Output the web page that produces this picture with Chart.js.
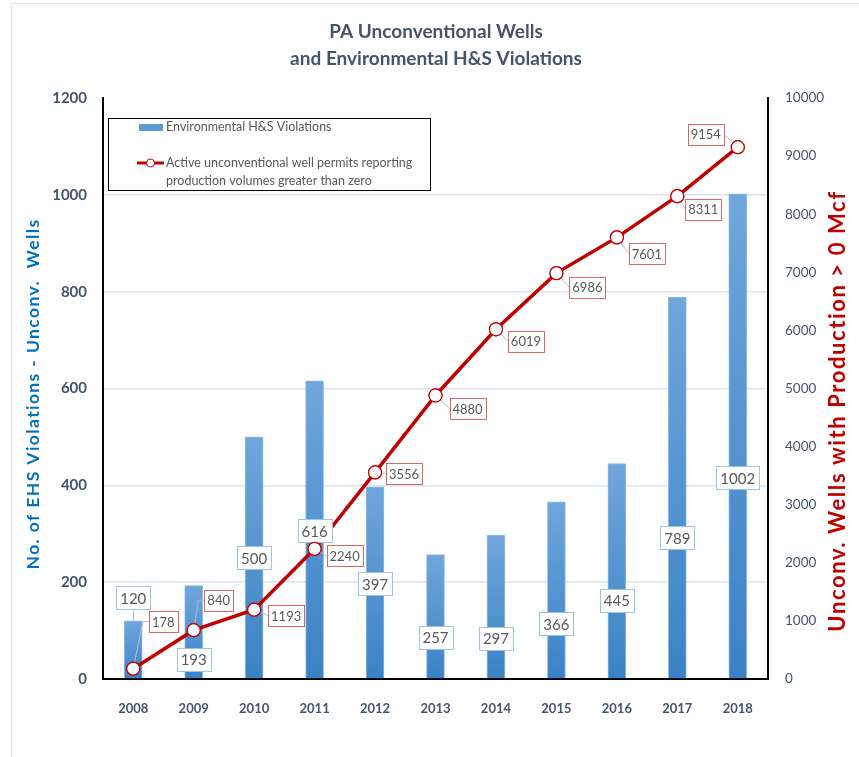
<!DOCTYPE html>
<html>
<head>
<meta charset="utf-8">
<script src="https://cdn.jsdelivr.net/npm/chart.js@4.4.0/dist/chart.umd.min.js"></script>
<style>
  html, body { margin: 0; padding: 0; background: #fff; }
  #wrap { width: 859px; height: 757px; position: relative; }
</style>
</head>
<body>
<div id="wrap"><canvas id="chart" width="859" height="757"></canvas></div>
<script>
const years = ['2008', '2009', '2010', '2011', '2012', '2013', '2014', '2015', '2016', '2017', '2018'];
const violations = [120, 193, 500, 616, 397, 257, 297, 366, 445, 789, 1002];
const activeWells = [178, 840, 1193, 2240, 3556, 4880, 6019, 6986, 7601, 8311, 9154];
const leftTicks = [0, 200, 400, 600, 800, 1000, 1200];
const rightTicks = [0, 1000, 2000, 3000, 4000, 5000, 6000, 7000, 8000, 9000, 10000];

const titleLines = ['PA Unconventional Wells', 'and Environmental H&S Violations'];
const barName = 'Environmental H&S Violations';
const lineName = ['Active unconventional well permits reporting', 'production volumes greater than zero'];

// label placement (pixels, relative to bar top / point)
const barLabelShift = [-23, 74, 121, 150, 97, 83, 103, 122, 137, 241, 284];
const lineLabelShift = [[30, -47], [25, -30], [32, 6], [30, 7], [29, 1], [32, 13], [30, 12], [31, 14], [30, 16], [26, 13], [-32, -13]];

const FONT = 'Lato, "Open Sans", sans-serif';
const SLATE = '#44546a';
const TEXT_GREY = '#595959';

function box(ctx, cx, cy, text, font, border, pad, h) {
    ctx.font = font;
    const w = Math.round(ctx.measureText(text).width + pad);
    const x = Math.round(cx - w / 2) + 0.5, y = Math.round(cy - h / 2) + 0.5;
    ctx.fillStyle = '#fff';
    ctx.fillRect(x, y, w, h);
    ctx.strokeStyle = border;
    ctx.lineWidth = 1;
    ctx.strokeRect(x, y, w, h);
    ctx.fillStyle = TEXT_GREY;
    ctx.textAlign = 'center';
    ctx.textBaseline = 'middle';
    ctx.fillText(text, cx, cy + 1);
    return { x, y, w, h };
}

// rotated text fitted to a target length
function sideTitle(ctx, text, cx, cy, font, color, length) {
    ctx.save();
    ctx.translate(cx, cy);
    ctx.rotate(-Math.PI / 2);
    ctx.font = font;
    ctx.fillStyle = color;
    ctx.textAlign = 'center';
    ctx.textBaseline = 'middle';
    const w = ctx.measureText(text).width;
    ctx.letterSpacing = ((length - w) / (text.length - 1)).toFixed(2) + 'px';
    ctx.fillText(text, 0, 0);
    ctx.restore();
}

const decorPlugin = {
    id: 'decor',
    beforeDraw(chart) {
        const ctx = chart.ctx;
        ctx.save();
        ctx.strokeStyle = '#dfe4ea';
        ctx.lineWidth = 1;
        ctx.beginPath();
        ctx.moveTo(11.5, 757);
        ctx.lineTo(11.5, 3.5);
        ctx.lineTo(859, 3.5);
        ctx.stroke();
        ctx.restore();
    },
    afterDatasetsDraw(chart) {
        const ctx = chart.ctx;
        const barMeta = chart.getDatasetMeta(0);
        const lineMeta = chart.getDatasetMeta(1);
        ctx.save();

        // bar value labels
        barMeta.data.forEach((bar, i) => {
            const cy = bar.y + barLabelShift[i];
            const b = box(ctx, bar.x, cy, String(violations[i]), '15px ' + FONT, '#9dc3e6', 8, 23);
            if (b.y + b.h < bar.y) {
                ctx.strokeStyle = '#bfbfbf';
                ctx.beginPath();
                ctx.moveTo(Math.round(bar.x) + 0.5, b.y + b.h);
                ctx.lineTo(Math.round(bar.x) + 0.5, bar.y);
                ctx.stroke();
            }
        });

        // line value labels with leaders
        lineMeta.data.forEach((pt, i) => {
            const [dx, dy] = lineLabelShift[i];
            const cx = pt.x + dx, cy = pt.y + dy;
            ctx.font = '13px ' + FONT;
            const w = ctx.measureText(String(activeWells[i])).width + 6;
            const ex = dx > 0 ? cx - w / 2 : cx + w / 2;
            ctx.strokeStyle = '#b4bcc6';
            ctx.lineWidth = 1;
            ctx.beginPath();
            ctx.moveTo(pt.x, pt.y);
            if (Math.abs(dy) > 20) {
                ctx.lineTo(ex - (dx > 0 ? 6 : -6), cy);
            }
            ctx.lineTo(ex, cy);
            ctx.stroke();
        });
        // redraw points on top of leaders
        lineMeta.data.forEach(pt => pt.draw(ctx, chart.chartArea));
        lineMeta.data.forEach((pt, i) => {
            const [dx, dy] = lineLabelShift[i];
            box(ctx, pt.x + dx, pt.y + dy, String(activeWells[i]), '13px ' + FONT, '#e06666', 6, 21);
        });
        ctx.restore();
    },
    afterDraw(chart) {
        const ctx = chart.ctx;
        ctx.save();
        // title
        ctx.fillStyle = SLATE;
        ctx.font = 'bold 19px ' + FONT;
        ctx.textAlign = 'center';
        ctx.textBaseline = 'middle';
        ctx.fillText(titleLines[0], 436, 32);
        ctx.fillText(titleLines[1], 436, 59);

        // axis titles
        sideTitle(ctx, 'No. of EHS Violations - Unconv.  Wells', 33, 394, 'bold 17.5px ' + FONT, '#0070c0', 350);
        sideTitle(ctx, 'Unconv. Wells with Production > 0 Mcf', 838, 411, 'bold 22px ' + FONT, '#c00000', 440);

        // legend
        ctx.fillStyle = '#fff';
        ctx.fillRect(108.5, 118.5, 322, 72);
        ctx.strokeStyle = '#000';
        ctx.lineWidth = 1;
        ctx.strokeRect(108.5, 118.5, 322, 72);
        ctx.fillStyle = '#5b9bd5';
        ctx.fillRect(139, 124, 24, 7);
        ctx.strokeStyle = '#c00000';
        ctx.lineWidth = 3;
        ctx.beginPath();
        ctx.moveTo(137, 163);
        ctx.lineTo(164, 163);
        ctx.stroke();
        ctx.beginPath();
        ctx.arc(150.5, 163, 4, 0, Math.PI * 2);
        ctx.fillStyle = '#fff';
        ctx.fill();
        ctx.lineWidth = 1;
        ctx.stroke();
        ctx.fillStyle = TEXT_GREY;
        ctx.font = '12.5px ' + FONT;
        ctx.textAlign = 'left';
        ctx.fillText(barName, 166, 127);
        ctx.fillText(lineName[0], 166, 163);
        ctx.fillText(lineName[1], 166, 181);
        ctx.restore();
    }
};

function barGradient(context) {
    const chart = context.chart;
    if (!chart.chartArea) return '#5b9bd5';
    const y = chart.scales.y;
    const top = y.getPixelForValue(violations[context.dataIndex]);
    const bottom = y.getPixelForValue(0);
    const g = chart.ctx.createLinearGradient(0, top, 0, bottom);
    g.addColorStop(0, '#70a6dc');
    g.addColorStop(1, '#3a82c5');
    return g;
}

new Chart(document.getElementById('chart'), {
    data: {
        labels: years,
        datasets: [{
            type: 'bar',
            label: barName,
            data: violations,
            yAxisID: 'y',
            backgroundColor: barGradient,
            borderColor: '#8fbbe6',
            borderWidth: { top: 1, left: 1, right: 1, bottom: 0 },
            barThickness: 18,
            order: 2
        }, {
            type: 'line',
            label: lineName.join(' '),
            data: activeWells,
            yAxisID: 'y1',
            borderColor: '#c00000',
            borderWidth: 3.5,
            pointRadius: 6.5,
            pointBorderWidth: 1.2,
            pointBackgroundColor: '#fff',
            pointBorderColor: '#c00000',
            tension: 0,
            order: 1
        }]
    },
    options: {
        responsive: false,
        animation: false,
        layout: { padding: { top: 98, left: 0, right: 0, bottom: 0 } },
        plugins: {
            legend: { display: false },
            title: { display: false },
            tooltip: { enabled: false }
        },
        scales: {
            x: {
                offset: true,
                grid: { display: false },
                border: { color: '#000', width: 2 },
                ticks: {
                    color: SLATE,
                    font: { family: FONT, size: 13, weight: 'bold' },
                    padding: 14
                },
                afterFit(scale) { scale.height = 78; }
            },
            y: {
                position: 'left',
                min: leftTicks[0],
                max: leftTicks[leftTicks.length - 1],
                afterBuildTicks(scale) { scale.ticks = leftTicks.map(v => ({ value: v })); },
                grid: {
                    color: ctx => (ctx.tick.value === 0 || ctx.tick.value === 1200) ? 'rgba(0,0,0,0)' : '#dbe3ee',
                    lineWidth: 1.5,
                    drawTicks: false
                },
                border: { color: '#000', width: 2 },
                ticks: {
                    color: SLATE,
                    font: { family: FONT, size: 15, weight: 'bold' },
                    padding: 16,
                    callback: v => String(v)
                },
                afterFit(scale) { scale.width = 103; }
            },
            y1: {
                position: 'right',
                min: rightTicks[0],
                max: rightTicks[rightTicks.length - 1],
                afterBuildTicks(scale) { scale.ticks = rightTicks.map(v => ({ value: v })); },
                grid: { display: false, drawTicks: false },
                border: { color: '#000', width: 2 },
                ticks: {
                    color: SLATE,
                    font: { family: FONT, size: 13.5 },
                    padding: 17,
                    callback: v => String(v)
                },
                afterFit(scale) { scale.width = 91; }
            }
        }
    },
    plugins: [decorPlugin]
});
</script>
</body>
</html>
